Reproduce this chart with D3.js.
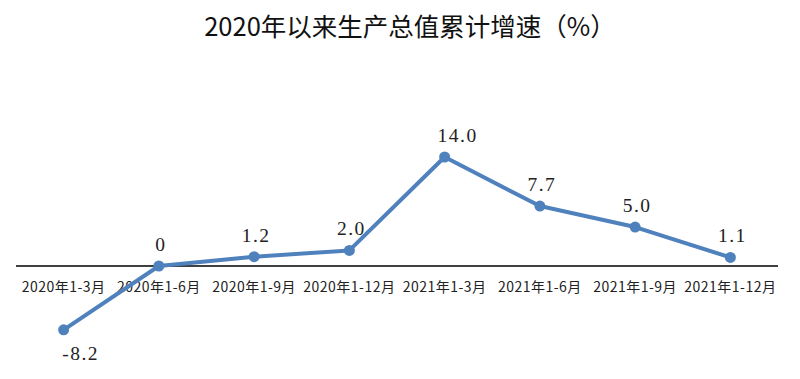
<!DOCTYPE html>
<html><head><meta charset="utf-8">
<script src="https://cdn.jsdelivr.net/npm/d3@7"></script>
<style>body{margin:0;background:#fff}</style>
</head><body>
<svg id="c" width="800" height="379"></svg>
<script>
const categories = ["2020年1-3月","2020年1-6月","2020年1-9月","2020年1-12月","2021年1-3月","2021年1-6月","2021年1-9月","2021年1-12月"];
const values = [-8.2, 0, 1.2, 2.0, 14.0, 7.7, 5.0, 1.1];
const valueLabels = ["-8.2","0","1.2","2.0","14.0","7.7","5.0","1.1"];
const title = "2020年以来生产总值累计增速（%）";

const svg = d3.select("#c");
const x = d3.scaleBand().domain(categories).range([16, 778]);
const y = d3.scaleLinear().domain([0, 14]).range([266, 157]);
const cx = d => x(d) + x.bandwidth()/2;

svg.append("text").attr("x", 410).attr("y", 36).attr("text-anchor","middle")
  .attr("font-family","'Noto Sans CJK SC', sans-serif").attr("font-size", 25.5).attr("fill","#111")
  .text(title);

svg.append("line").attr("x1", x.range()[0]).attr("x2", x.range()[1])
  .attr("y1", y(0)).attr("y2", y(0)).attr("stroke","#000").attr("stroke-width",1.5);

const axis = d3.axisBottom(x).tickSize(0).tickPadding(0);
const g = svg.append("g").attr("transform", `translate(0,${y(0)})`).call(axis);
g.select(".domain").remove();
g.selectAll("text").attr("y", 26).attr("dy","0")
  .attr("font-family","'Noto Sans CJK SC', sans-serif").attr("font-size", 14)
  .attr("letter-spacing", 0.5).attr("fill","#222");

const line = d3.line().x((d,i)=>cx(categories[i])).y(d=>y(d));
svg.append("path").datum(values).attr("d", line).attr("fill","none")
  .attr("stroke","#4f81bd").attr("stroke-width",4).attr("stroke-linejoin","round");

svg.selectAll("circle.pt").data(values).join("circle").attr("class","pt")
  .attr("cx",(d,i)=>cx(categories[i])).attr("cy", d=>y(d)).attr("r",5.5).attr("fill","#4f81bd");

svg.selectAll("text.lbl").data(values).join("text").attr("class","lbl")
  .attr("x",(d,i)=>cx(categories[i]) + (i===0?17:(i===4?13:2)))
  .attr("y", d => d < 0 ? y(d) + 30 : y(d) - 15)
  .attr("text-anchor","middle")
  .attr("font-family","'Liberation Serif', 'DejaVu Serif', serif").attr("font-size", 19.5)
  .attr("letter-spacing", 1.5).attr("fill","#222")
  .text((d,i)=>valueLabels[i]);
</script>
</body></html>
